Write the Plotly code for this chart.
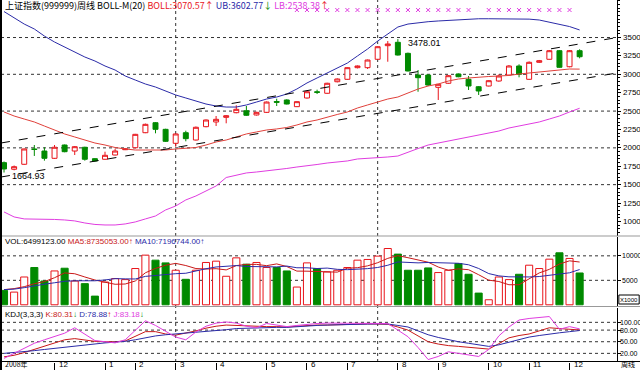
import plotly.graph_objects as go

# ---------------- data ----------------
opens = [1799, 1709, 1777, 1985, 1957, 1858, 2039, 1957, 2008, 1853,
         1845, 1903, 1975, 2002, 2206, 2342, 2252, 2062, 2206, 2107,
         2288, 2352, 2415, 2478, 2505, 2447, 2483, 2630, 2651, 2560,
         2678, 2762, 2742, 2899, 2932, 3090, 3090, 3204, 3389, 3435,
         3285, 2990, 2990, 2823, 2878, 3004, 2932, 2831, 2841, 2909,
         2990, 3113, 2932, 3163, 3204, 3321, 3103, 3321]
highs = [1815, 1760, 1990, 2039, 2008, 2039, 2045, 2025, 2015, 1860,
         1948, 1989, 1995, 2190, 2330, 2350, 2260, 2195, 2233, 2290,
         2385, 2433, 2445, 2579, 2569, 2490, 2630, 2668, 2660, 2632,
         2770, 2791, 2885, 2945, 3095, 3120, 3200, 3380, 3452, 3478.01,
         3295, 3058, 3000, 2870, 2990, 3010, 2977, 2840, 2920, 3000,
         3125, 3136, 3175, 3195, 3330, 3330, 3330, 3340]
lows = [1664.93, 1695, 1770, 1890, 1826, 1850, 1940, 1903, 1826, 1815,
        1840, 1898, 1970, 1995, 2200, 2198, 2080, 2016, 2089, 2100,
        2280, 2297, 2334, 2470, 2435, 2440, 2475, 2569, 2590, 2555,
        2670, 2732, 2735, 2890, 2925, 3080, 3072, 3200, 3171, 3255,
        3040, 2763, 2840, 2651, 2870, 2960, 2787, 2719, 2835, 2900,
        2985, 2959, 2925, 3155, 3200, 3090, 3095, 3217]
closes = [1713, 1744, 1985, 1978, 1858, 2008, 1948, 2016, 1845, 1822,
          1899, 1957, 1985, 2184, 2320, 2252, 2089, 2189, 2125, 2280,
          2379, 2388, 2437, 2524, 2443, 2483, 2623, 2620, 2596, 2628,
          2763, 2755, 2878, 2936, 3090, 3113, 3194, 3375, 3412, 3262,
          3045, 2954, 2854, 2864, 2981, 2967, 2841, 2773, 2913, 2977,
          3113, 3000, 3163, 3185, 3321, 3095, 3321, 3239]

boll_ub = [3853, 3765, 3683, 3616, 3520, 3439, 3371, 3303, 3235, 3181,
           3113, 3058, 2977, 2922, 2868, 2827, 2773, 2719, 2678, 2637,
           2596, 2569, 2555, 2555, 2583, 2623, 2664, 2691, 2732, 2800,
           2882, 2950, 3018, 3086, 3153, 3249, 3344, 3452, 3548, 3643,
           3683, 3704, 3715, 3725, 3735, 3745, 3752, 3755, 3755, 3755,
           3752, 3755, 3750, 3738, 3711, 3683, 3649, 3602.77]
boll_mid = [2488, 2433, 2392, 2352, 2297, 2243, 2189, 2148, 2107, 2066,
            2039, 2005, 1985, 1971, 1971, 1971, 1971, 1985, 1991, 2005,
            2039, 2080, 2107, 2148, 2189, 2216, 2243, 2257, 2277, 2311,
            2352, 2379, 2420, 2454, 2488, 2542, 2583, 2623, 2664, 2691,
            2746, 2800, 2841, 2868, 2909, 2936, 2950, 2963, 2970, 2977,
            2984, 3004, 3018, 3031, 3052, 3065, 3072, 3070.57]
boll_lb = [1129, 1061, 1034, 1034, 1034, 1027, 1020, 1007, 979, 959,
           952, 952, 966, 993, 1034, 1074, 1156, 1210, 1292, 1346,
           1414, 1482, 1597, 1631, 1659, 1672, 1686, 1699, 1720, 1740,
           1754, 1774, 1794, 1808, 1822, 1849, 1856, 1862, 1876, 1889,
           1944, 1991, 2039, 2066, 2093, 2121, 2148, 2175, 2202, 2229,
           2270, 2297, 2324, 2352, 2392, 2433, 2488, 2538.38]

volume = [2943, 2593, 5680, 7615, 4857, 6915, 7471, 4857, 4322, 1770,
          4651, 5351, 5145, 7409, 10146, 9117, 8561, 7059, 5207, 7059,
          8644, 8911, 5824, 9590, 8294, 8644, 7615, 7615, 6915, 3622,
          8561, 7409, 6709, 7059, 7615, 9117, 9261, 9940, 11500, 10352,
          7059, 7059, 7532, 6586, 7059, 8438, 6236, 2387, 1029, 5680,
          5145, 6236, 8088, 7409, 9323, 10620, 9467, 6499]
vol_ma5 = [3100, 3300, 3700, 4300, 4738, 5532, 6508, 6343, 5684, 5067,
           4614, 4190, 4248, 4865, 6540, 7434, 8076, 8458, 8018, 7401,
           7306, 7376, 7129, 8006, 8253, 8253, 7993, 8352, 7817, 6882,
           6866, 6824, 6643, 6672, 7471, 7582, 7952, 8598, 9487, 10034,
           9622, 9182, 8700, 7718, 7059, 7335, 7170, 6141, 5030, 4754,
           4095, 4095, 5236, 6512, 7240, 8335, 8981, 8735]
vol_ma10 = [3100, 3200, 3500, 3900, 4200, 4500, 4800, 4900, 4900, 4902,
            5073, 5349, 5295, 5275, 5804, 6024, 6133, 6353, 6442, 6971,
            7370, 7726, 7794, 8012, 7827, 7779, 7685, 7740, 7911, 7567,
            7559, 7409, 7497, 7244, 7176, 7224, 7388, 7621, 8079, 8752,
            8602, 8567, 8649, 8602, 8547, 8479, 8176, 7421, 6374, 5907,
            5715, 5633, 5688, 5771, 5997, 6215, 6538, 7197]

kdj_k = [11, 15, 22, 30, 38, 47, 55, 58, 54, 51,
         50, 50, 52, 65, 76, 76, 70, 67, 72, 78,
         85, 90, 93, 92, 90, 89, 89, 89, 88, 90,
         92, 93, 93, 94, 95, 95.5, 96, 95.7, 95, 88,
         80, 65, 50, 44, 40, 38, 36, 33, 31, 45,
         60, 66, 70, 78, 86, 84, 82, 80.31]
kdj_d = [20, 22, 24, 27, 30, 33, 36, 39, 42, 45,
         47, 49, 51, 55, 60, 65, 68, 70, 72, 74,
         76, 79, 81, 84, 85, 86, 86.5, 87, 87, 89,
         90, 92, 93, 94, 94.5, 95, 95.5, 96, 95.7, 92,
         88, 78, 68, 61, 55, 50, 46, 42, 38, 42,
         49, 56, 62, 66, 70, 73, 76, 78.88]
kdj_j = [7, 20, 32, 46, 55, 63, 72, 86, 70, 53,
         50, 47, 55, 80, 104, 92, 78, 62, 55, 75,
         90, 98, 101, 98, 90, 86, 97, 92, 89, 92,
         95, 97, 98, 98, 98, 98, 98, 98, 97, 80,
         63, 35, 4, 12, 24, 20, 16, 12, 30, 65,
         88, 106, 110, 113, 115, 82, 89, 83.18]

# trend channel drawn by the user (bar index, price)
trend_x = [-0.3, 60.7]
trend_upper = [2066, 3500]
trend_lower = [1604, 3018]

# signal marks on the top row (bar indices)
signal_bars = list(range(29, 47)) + list(range(48, 57))

month_bars = [-0.3, 5, 10, 13, 17, 21, 26, 30, 34, 39, 43, 48, 52, 56]
month_labels = ["2008年", "12", "1", "2", "3", "4", "5", "6", "7", "8", "9", "10", "11", "12"]

price_ticks = [1000, 1250, 1500, 1750, 2000, 2250, 2500, 2750, 3000, 3250, 3500]
price_grid = [1500, 2000, 2500, 3000, 3500]
vol_ticks = [5000, 10000]
kdj_ticks = [20, 50, 80, 100]
kdj_tick_text = ["20.00", "50.00", "80.00", "100.00"]
cycle_bars = [17, 37]

# ---------------- styling ----------------
RED = "#e8141a"
GREEN = "#008a00"
NAVY = "#2b2ba8"
MAG = "#e03ce0"
MIDRED = "#e0403a"
DARKRED = "#c81818"
FONT = "Liberation Sans"
CJK = "Noto Sans CJK SC"

n = len(closes)
idx = list(range(n))
up = [c >= o for o, c in zip(opens, closes)]

H_PLOT = 362.0


def py(ypx):
    return (H_PLOT - ypx) / H_PLOT


fig = go.Figure()

fig.add_trace(go.Candlestick(
    x=idx, open=opens, high=highs, low=lows, close=closes,
    increasing=dict(line=dict(color=RED, width=1), fillcolor="white"),
    decreasing=dict(line=dict(color=GREEN, width=1), fillcolor=GREEN),
    whiskerwidth=0, xaxis="x", yaxis="y", showlegend=False, hoverinfo="skip"))

fig.add_trace(go.Scatter(x=idx, y=boll_ub, mode="lines", line=dict(color=NAVY, width=1),
                         xaxis="x", yaxis="y", showlegend=False, hoverinfo="skip"))
fig.add_trace(go.Scatter(x=idx, y=boll_mid, mode="lines", line=dict(color=MIDRED, width=1),
                         xaxis="x", yaxis="y", showlegend=False, hoverinfo="skip"))
fig.add_trace(go.Scatter(x=idx, y=boll_lb, mode="lines", line=dict(color=MAG, width=1),
                         xaxis="x", yaxis="y", showlegend=False, hoverinfo="skip"))

for ys in (trend_upper, trend_lower):
    fig.add_trace(go.Scatter(x=trend_x, y=ys, mode="lines",
                             line=dict(color="black", width=1, dash="dash"),
                             xaxis="x", yaxis="y", showlegend=False, hoverinfo="skip"))

fig.add_trace(go.Scatter(x=signal_bars, y=[3874] * len(signal_bars), mode="markers",
                         marker=dict(symbol="x-thin", size=4, line=dict(color=MAG, width=1)),
                         xaxis="x", yaxis="y", showlegend=False, hoverinfo="skip"))

# volume
fig.add_trace(go.Bar(
    x=idx, y=volume, width=0.7,
    marker=dict(color=["white" if u else GREEN for u in up],
                line=dict(color=[RED if u else GREEN for u in up], width=1)),
    xaxis="x", yaxis="y2", showlegend=False, hoverinfo="skip"))
fig.add_trace(go.Scatter(x=idx, y=vol_ma5, mode="lines", line=dict(color=DARKRED, width=1),
                         xaxis="x", yaxis="y2", showlegend=False, hoverinfo="skip"))
fig.add_trace(go.Scatter(x=idx, y=vol_ma10, mode="lines", line=dict(color=NAVY, width=1),
                         xaxis="x", yaxis="y2", showlegend=False, hoverinfo="skip"))

# KDJ
fig.add_trace(go.Scatter(x=idx, y=kdj_k, mode="lines", line=dict(color=DARKRED, width=1),
                         xaxis="x", yaxis="y3", showlegend=False, hoverinfo="skip"))
fig.add_trace(go.Scatter(x=idx, y=kdj_d, mode="lines", line=dict(color=NAVY, width=1),
                         xaxis="x", yaxis="y3", showlegend=False, hoverinfo="skip"))
fig.add_trace(go.Scatter(x=idx, y=kdj_j, mode="lines", line=dict(color=MAG, width=1),
                         xaxis="x", yaxis="y3", showlegend=False, hoverinfo="skip"))

shapes = []
for g in price_grid:
    shapes.append(dict(type="line", xref="x domain", yref="y", x0=0, x1=1, y0=g, y1=g,
                       line=dict(color="#333", width=1, dash="dot"), layer="below"))
for g in vol_ticks:
    shapes.append(dict(type="line", xref="x domain", yref="y2", x0=0, x1=1, y0=g, y1=g,
                       line=dict(color="#333", width=1, dash="dot"), layer="below"))
for g in kdj_ticks:
    shapes.append(dict(type="line", xref="x domain", yref="y3", x0=0, x1=1, y0=g, y1=g,
                       line=dict(color="#333", width=1, dash="dot"), layer="below"))
for b in cycle_bars:
    shapes.append(dict(type="line", xref="x", yref="paper", x0=b, x1=b, y0=0, y1=1,
                       line=dict(color="#333", width=1, dash="dot"), layer="below"))
# panel frames
for yp in (236, 306.5):
    shapes.append(dict(type="line", xref="paper", yref="paper", x0=0, x1=1.04,
                       y0=py(yp), y1=py(yp), line=dict(color="#999", width=1)))
shapes.append(dict(type="line", xref="paper", yref="paper", x0=0, x1=1.04,
                   y0=py(361.5), y1=py(361.5), line=dict(color="black", width=1)))
shapes.append(dict(type="line", xref="paper", yref="paper", x0=0, x1=0, y0=-0.03, y1=1,
                   line=dict(color="black", width=2)))
shapes.append(dict(type="rect", xref="paper", yref="paper", x0=1.003, x1=1.036,
                   y0=py(304), y1=py(295), line=dict(color="black", width=1)))

ann = []


def txt(x, y, s, color="black", size=9, xanchor="left", yanchor="middle", xref="paper", yref="paper",
        xshift=0, yshift=0, font=FONT):
    ann.append(dict(x=x, y=y, xref=xref, yref=yref, text=s, showarrow=False,
                    xanchor=xanchor, yanchor=yanchor, xshift=xshift, yshift=yshift,
                    font=dict(family=font, size=size, color=color)))


title = ("上证指数(999999)周线 BOLL-M(20) "
         f"<span style='color:{RED}'>BOLL:3070.57↑</span> "
         f"<span style='color:{NAVY}'>UB:3602.77</span><span style='color:{GREEN}'>↓</span> "
         f"<span style='color:{MAG}'>LB:2538.38</span><span style='color:{RED}'>↑</span>")
txt(0.003, py(5), title, size=9, font=CJK)

vol_txt = ("VOL:6499123.00 "
           f"<span style='color:{DARKRED}'>MA5:8735053.00↑</span> "
           f"<span style='color:{NAVY}'>MA10:7196744.00↑</span>")
txt(0.003, py(241), vol_txt, size=8)

kdj_txt = ("KDJ(3,3,3) "
           f"<span style='color:{DARKRED}'>K:80.31</span><span style='color:{GREEN}'>↓</span> "
           f"<span style='color:{NAVY}'>D:78.88</span><span style='color:{RED}'>↑</span> "
           f"<span style='color:{MAG}'>J:83.18</span><span style='color:{GREEN}'>↓</span>")
txt(0.003, py(314), kdj_txt, size=8)

txt(39, 3478.01, "3478.01", xref="x", yref="y", size=9, xshift=8, yshift=-4)
txt(0, 1664.93, "1664.93", xref="x", yref="y", size=9, xshift=6, yshift=-3)

# right-hand axis labels (written as text so they fit the narrow strip)
for v in price_ticks:
    txt(1.0, v, f"{v}", xref="paper", yref="y", size=8, xshift=4)
for v in vol_ticks:
    txt(1.0, v, f"{v}", xref="paper", yref="y2", size=7, xshift=3)
for v, s in zip(kdj_ticks, kdj_tick_text):
    txt(1.0, v, s, xref="paper", yref="y3", size=7, xshift=1)

for b, lab in zip(month_bars, month_labels):
    fam = CJK if "年" in lab else FONT
    txt(b, py(370), lab, xref="x", size=7 if fam == CJK else 8, xshift=2,
        yanchor="bottom", yshift=-1, font=fam)
txt(1.003, py(370), "周线", size=7, font=CJK, yanchor="bottom", yshift=-1)
txt(1.019, py(299.5), "X1000", size=6, xanchor="center")

axis_common = dict(anchor="x", side="right", showticklabels=False, ticks="outside", ticklen=3,
                   tickcolor="black", showgrid=False, zeroline=False, showline=True,
                   linecolor="black", automargin=False)

fig.update_layout(
    width=640, height=370,
    margin=dict(l=1, r=23, t=0, b=8, autoexpand=False),
    paper_bgcolor="white", plot_bgcolor="white",
    showlegend=False, boxgap=0.3, bargap=0.3,
    shapes=shapes, annotations=ann,
    xaxis=dict(domain=[0, 1], anchor="y3", range=[-0.3, 60.7], showgrid=False, zeroline=False,
               rangeslider=dict(visible=False), tickvals=month_bars, ticks="outside",
               ticklen=7, tickcolor="black", showticklabels=False, showline=False,
               automargin=False),
    yaxis=dict(domain=[py(236), 1], range=[802, 4010], tickvals=price_ticks,
               minor=dict(dtick=50, ticklen=2, ticks="outside", tickcolor="black"),
               **axis_common),
    yaxis2=dict(domain=[py(306.5), py(237)], range=[-350, 13850], tickvals=vol_ticks,
                **axis_common),
    yaxis3=dict(domain=[0, py(308)], range=[-2.3, 137], tickvals=kdj_ticks,
                **axis_common),
)

fig.write_html("out.html", config={"displayModeBar": False},
               post_script="document.body.style.margin='0px';")
